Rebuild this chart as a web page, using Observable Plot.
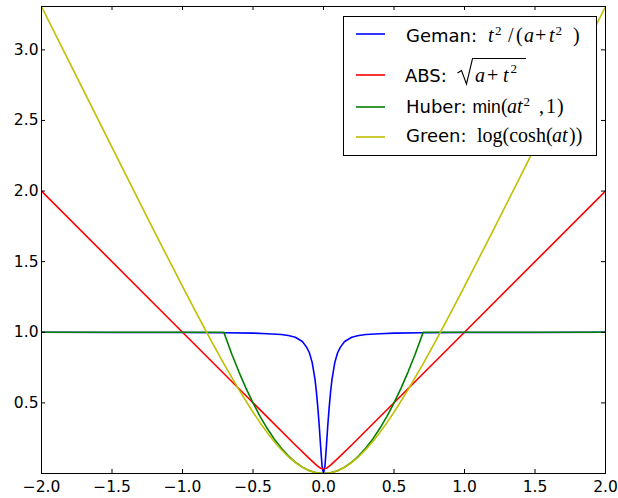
<!DOCTYPE html>
<html>
<head>
<meta charset="utf-8">
<script src="https://cdn.jsdelivr.net/npm/d3@7"></script>
<script src="https://cdn.jsdelivr.net/npm/@observablehq/plot@0.6"></script>
<style>
  html, body { margin: 0; padding: 0; background: #fff; }
  #chart svg { display: block; }
</style>
</head>
<body>
<div id="chart"></div>
<script>
// Robust penalty functions of the residual t

// Geman: t^2 / (a + t^2)
const gemanT = [-2, -1.5, -1, -0.7, -0.5, -0.4, -0.3, -0.25, -0.2, -0.15, -0.12, -0.1, -0.08, -0.06, -0.05, -0.04, -0.03, -0.02, -0.01, 0,
                0.01, 0.02, 0.03, 0.04, 0.05, 0.06, 0.08, 0.1, 0.12, 0.15, 0.2, 0.25, 0.3, 0.4, 0.5, 0.7, 1, 1.5, 2];
const gemanV = [1.0, 0.999, 0.998, 0.997, 0.994, 0.99, 0.984, 0.977, 0.965, 0.935, 0.895, 0.855, 0.785, 0.665, 0.575, 0.465, 0.335, 0.185, 0.05, 0,
                0.05, 0.185, 0.335, 0.465, 0.575, 0.665, 0.785, 0.855, 0.895, 0.935, 0.965, 0.977, 0.984, 0.99, 0.994, 0.997, 0.998, 0.999, 1.0];

// ABS: sqrt(a + t^2)
const absT = [-2, -1, -0.5, -0.2, -0.1, -0.05, -0.02, 0, 0.02, 0.05, 0.1, 0.2, 0.5, 1, 2];
const absV = [2.0, 1.0, 0.501, 0.202, 0.105, 0.059, 0.037, 0.032, 0.037, 0.059, 0.105, 0.202, 0.501, 1.0, 2.0];

// Huber: min(a t^2, 1)
const huberT = [-2, -0.707, -0.65, -0.6, -0.55, -0.5, -0.45, -0.4, -0.35, -0.3, -0.25, -0.2, -0.15, -0.1, -0.05, 0,
                0.05, 0.1, 0.15, 0.2, 0.25, 0.3, 0.35, 0.4, 0.45, 0.5, 0.55, 0.6, 0.65, 0.707, 2];
const huberV = [1, 1, 0.845, 0.72, 0.605, 0.5, 0.405, 0.32, 0.245, 0.18, 0.125, 0.08, 0.045, 0.02, 0.005, 0,
                0.005, 0.02, 0.045, 0.08, 0.125, 0.18, 0.245, 0.32, 0.405, 0.5, 0.605, 0.72, 0.845, 1, 1];

// Green: log(cosh(a t))
const greenT = [-2, -1.8, -1.6, -1.4, -1.2, -1.0, -0.9, -0.8, -0.7, -0.6, -0.5, -0.45, -0.4, -0.35, -0.3, -0.25, -0.2, -0.15, -0.1, -0.05, 0,
                0.05, 0.1, 0.15, 0.2, 0.25, 0.3, 0.35, 0.4, 0.45, 0.5, 0.6, 0.7, 0.8, 0.9, 1.0, 1.2, 1.4, 1.6, 1.8, 2];
const greenV = [3.307, 2.908, 2.509, 2.111, 1.715, 1.325, 1.134, 0.947, 0.766, 0.594, 0.434, 0.36, 0.291, 0.227, 0.17, 0.12, 0.078, 0.044, 0.02, 0.005, 0,
                0.005, 0.02, 0.044, 0.078, 0.12, 0.17, 0.227, 0.291, 0.36, 0.434, 0.594, 0.766, 0.947, 1.134, 1.325, 1.715, 2.111, 2.509, 2.908, 3.307];

const seriesNames = ["Geman", "ABS", "Huber", "Green"];
const seriesColors = ["#0000ff", "#ff0000", "#008000", "#bfbf00"];
const legendNames = ["Geman:", "ABS:", "Huber:", "Green:"];

const xTicks = [-2, -1.5, -1, -0.5, 0, 0.5, 1, 1.5, 2];
const yTicks = [0.5, 1, 1.5, 2, 2.5, 3];

const rows = [];
function addSeries(name, ts, vs) {
  ts.forEach((t, i) => rows.push({ series: name, t, v: vs[i] }));
}
addSeries("Geman", gemanT, gemanV);
addSeries("ABS", absT, absV);
addSeries("Huber", huberT, huberV);
addSeries("Green", greenT, greenV);

const W = 618, H = 498;
const mL = 41, mR = 13, mT = 6, mB = 25;
const innerW = W - mL - mR, innerH = H - mT - mB;
const tickLen = 4;

const plot = Plot.plot({
  width: W,
  height: H,
  marginLeft: mL,
  marginRight: mR,
  marginTop: mT,
  marginBottom: mB,
  x: { domain: [-2, 2] },
  y: { domain: [0, 3.307] },
  color: { domain: seriesNames, range: seriesColors },
  style: { fontFamily: "DejaVu Sans", fontSize: "15.5px", background: "#fff", color: "#000", overflow: "visible" },
  marks: [
    Plot.line(rows, { x: "t", y: "v", z: "series", stroke: "series", strokeWidth: 1.6, clip: true }),
    // inward ticks on all four sides
    Plot.ruleX(xTicks, { x: d => d, insetTop: innerH - tickLen, stroke: "#000" }),
    Plot.ruleX(xTicks, { x: d => d, insetBottom: innerH - tickLen, stroke: "#000" }),
    Plot.ruleY(yTicks, { y: d => d, insetRight: innerW - tickLen, stroke: "#000" }),
    Plot.ruleY(yTicks, { y: d => d, insetLeft: innerW - tickLen, stroke: "#000" }),
    Plot.axisX(xTicks, { tickSize: 0, tickPadding: 7, tickFormat: d3.format(".1f"), label: null }),
    Plot.axisY(yTicks, { tickSize: 0, tickPadding: 3, tickFormat: d3.format(".1f"), label: null }),
    Plot.frame({ stroke: "#000", strokeWidth: 1 })
  ]
});

document.getElementById("chart").appendChild(plot);

// Legend box with the formula of each penalty
const svg = d3.select(plot);
const lg = svg.append("g").attr("text-anchor", "start");
lg.append("rect")
  .attr("x", 343.5).attr("y", 16.5).attr("width", 253).attr("height", 139)
  .attr("fill", "#fff").attr("stroke", "#000").attr("stroke-width", 1);

const lineY = [34, 75, 107, 137];
seriesColors.forEach((c, i) => {
  lg.append("line")
    .attr("x1", 356).attr("x2", 385).attr("y1", lineY[i]).attr("y2", lineY[i])
    .attr("stroke", c).attr("stroke-width", 1.6);
});

const SANS = "DejaVu Sans", SERIF = "Liberation Serif";
function piece(s, x, y, opts = {}) {
  lg.append("text")
    .attr("x", x).attr("y", y)
    .attr("text-anchor", "start")
    .attr("font-family", opts.family || SERIF)
    .attr("font-size", opts.size || 20)
    .attr("font-style", opts.italic ? "italic" : "normal")
    .attr("fill", "#000")
    .text(s);
}

// Geman: t^2 /(a+t^2 )
const b1 = 41.5;
piece(legendNames[0], 406, b1, { family: SANS, size: 18 });
piece("t", 488, b1, { italic: true });
piece("2", 495, b1 - 7, { size: 13 });
piece("/", 508, b1);
piece("(", 516, b1);
piece("a", 524, b1, { italic: true });
piece("+", 535, b1);
piece("t", 549, b1, { italic: true });
piece("2", 555.5, b1 - 7, { size: 13 });
piece(")", 573, b1);

// ABS: sqrt(a+t^2)
const b2 = 82;
piece(legendNames[1], 405, b2, { family: SANS, size: 18 });
lg.append("path")
  .attr("d", "M457.5,73 L461.5,70.5 L466.5,84 L472.5,58.5 L526,58.5")
  .attr("fill", "none").attr("stroke", "#000").attr("stroke-width", 1.1);
piece("a", 475, b2, { italic: true });
piece("+", 487, b2);
piece("t", 503, b2, { italic: true });
piece("2", 510.5, b2 - 9, { size: 13 });

// Huber: min(at^2 ,1)
const b3 = 112.5;
piece(legendNames[2], 406, b3, { family: SANS, size: 18 });
piece("min", 472.5, b3, { family: "Liberation Sans", size: 17.5 });
piece("(", 501, b3);
piece("a", 507, b3, { italic: true });
piece("t", 517, b3, { italic: true });
piece("2", 523.5, b3 - 7, { size: 13 });
piece(",", 539, b3);
piece("1", 546, b3);
piece(")", 557, b3);

// Green: log(cosh(at))
const b4 = 141.5;
piece(legendNames[3], 406, b4, { family: SANS, size: 18 });
piece("log(cosh(", 477, b4);
piece("a", 552, b4, { italic: true });
piece("t", 562, b4, { italic: true });
piece("))", 569, b4);
</script>
</body>
</html>
